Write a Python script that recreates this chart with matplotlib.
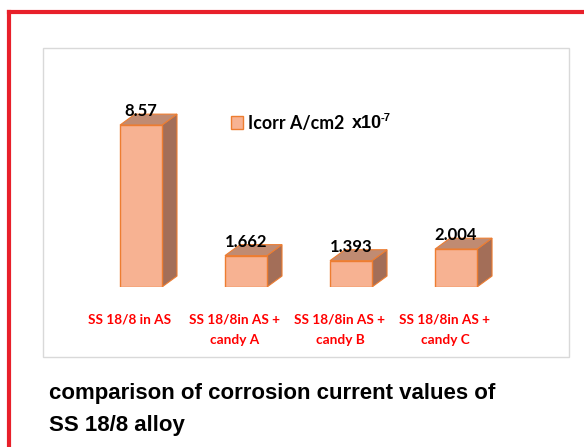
import numpy as np
import matplotlib.pyplot as plt
from matplotlib.patches import Polygon, Rectangle, Patch
from matplotlib.lines import Line2D
import matplotlib.transforms as mtransforms

# data
categories = ['SS 18/8 in AS', 'SS 18/8in AS +\ncandy A', 'SS 18/8in AS +\ncandy B', 'SS 18/8in AS +\ncandy C']
values = [8.57, 1.662, 1.393, 2.004]
value_labels = ['8.57', '1.662', '1.393', '2.004']
series_name = 'Icorr A/cm2'

W, H = 584, 447
fig = plt.figure(figsize=(W / 100, H / 100), dpi=100)

# red outer border
fig.add_artist(Line2D([8.5 / W, 8.5 / W], [0, 1 - 12 / H], color='#e8202a', lw=3, transform=fig.transFigure))
fig.add_artist(Line2D([8.5 / W, 1], [1 - 12 / H, 1 - 12 / H], color='#e8202a', lw=3, transform=fig.transFigure))

# chart area frame
fig.add_artist(Rectangle((43 / W, 1 - 357 / H), 526 / W, 309 / H, transform=fig.transFigure,
                         fill=False, edgecolor='#d9d9d9', lw=1))

# axes: y=0 at pixel 287, 105 px per category
ax = fig.add_axes([43 / W, 1 - 287 / H, 526 / W, 239 / H])
ax.set_xlim(-0.933, 4.076)
ax.set_ylim(0, 12.65)
ax.axis('off')

w = 0.4
dx, dy = 0.143, 0.58
front = '#f7b292'
side = '#a36e58'
top = '#c08b72'
edge = '#ed7d31'

x = np.arange(len(values))
ax.bar(x, values, width=w, color=front, edgecolor=edge, linewidth=1, zorder=3)
for xi, v in zip(x, values):
    r = xi + w / 2
    l = xi - w / 2
    ax.add_patch(Polygon([(r, 0), (r + dx, dy), (r + dx, v + dy), (r, v)], closed=True,
                         facecolor=side, edgecolor=edge, lw=0.8, zorder=2))
    ax.add_patch(Polygon([(l, v), (l + dx, v + dy), (r + dx, v + dy), (r, v)], closed=True,
                         facecolor=top, edgecolor=edge, lw=0.8, zorder=2))

# value labels
for xi, v, s in zip(x, values, value_labels):
    ax.text(xi, v + 0.3, s, ha='center', va='bottom', fontsize=12, fontweight='bold',
            family='Lato', color='black', zorder=5)

# category labels
trans = mtransforms.blended_transform_factory(ax.transData, fig.transFigure)
for xi, c in zip(x, categories):
    ax.text(xi - 0.105, 1 - 313 / H, c, transform=trans, ha='center', va='top',
            fontsize=9.8, fontweight='bold', family='Lato', color='#ff0000',
            linespacing=1.95, clip_on=False)

# legend
handle = Patch(facecolor=front, edgecolor=edge, lw=1)
fig.legend([handle], [series_name], loc='center left', bbox_to_anchor=(215 / W, 1 - 123 / H),
           frameon=False, prop={'family': 'Lato', 'weight': 'bold', 'size': 12.8},
           handlelength=0.7, handleheight=0.7, handletextpad=0.25)
fig.text(352 / W, 1 - 124 / H, 'x10', ha='left', va='center', fontsize=13,
         fontweight='bold', family='Liberation Sans')
fig.text(381 / W, 1 - 118 / H, '-7', ha='left', va='center', fontsize=8,
         fontweight='bold', family='Liberation Sans')

# caption
fig.text(49 / W, 1 - 394 / H, 'comparison of corrosion current values of', ha='left', va='center',
         fontsize=16, fontweight='bold', family='Liberation Sans')
fig.text(49 / W, 1 - 425 / H, 'SS 18/8 alloy', ha='left', va='center',
         fontsize=16, fontweight='bold', family='Liberation Sans')

fig.savefig('out.png', dpi=100)
